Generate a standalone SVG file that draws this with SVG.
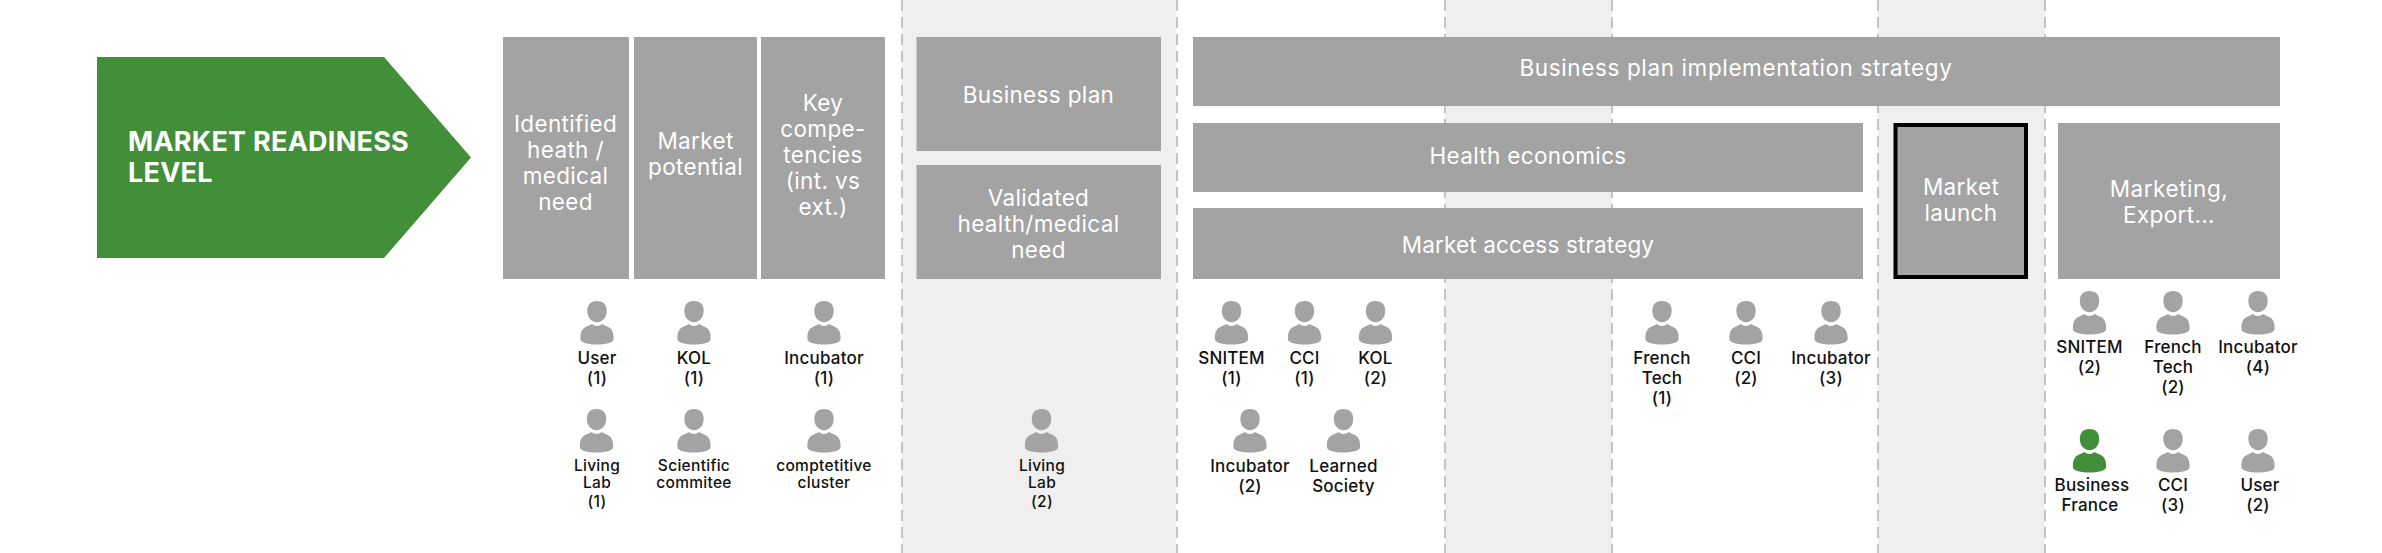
<svg xmlns="http://www.w3.org/2000/svg" width="2382" height="553" viewBox="0 0 2382 553">
<style>
.band{fill:#efefef}
.dash{stroke:#c4c4c4;stroke-width:2;stroke-dasharray:11 6;fill:none}
.box{fill:#a3a3a3}
text{font-family:"Inter","Liberation Sans",sans-serif}
.t{fill:#fff;font-size:22.5px;text-anchor:middle;letter-spacing:.35px}
.h{fill:#fff;font-size:27px;font-weight:700;letter-spacing:.25px}
.l{fill:#111;font-size:17px;font-weight:500;text-anchor:middle;letter-spacing:.2px}
.s{fill:#111;font-size:15.500px;font-weight:500;text-anchor:middle;letter-spacing:.3px}
.p{fill:#a3a3a3}
.g{fill:#438e38}
</style>
<defs>
<g id="person">
<path d="M0,0 C6.500,0 9.700,4 9.700,10 C9.700,16.500 5.500,21.200 0,21.200 C-5.500,21.200 -9.700,16.500 -9.700,10 C-9.700,4 -6.500,0 0,0 Z"/>
<path d="M-16.600,37 C-16.600,30 -14.500,27 -9,25 L-5,23 C-2.500,25.500 2.500,25.500 5,23 L9,25 C14.500,27 16.600,30 16.600,37 L16.600,38 C16.600,42 8,43.500 0,43.500 C-8,43.500 -16.600,42 -16.600,38 Z"/>
</g>
</defs>
<rect width="2382" height="553" fill="#fff"/>
<g id="bands">
<rect class="band" x="902" y="0" width="274" height="553"/>
<rect class="band" x="1445" y="0" width="167" height="553"/>
<rect class="band" x="1878" y="0" width="167" height="553"/>
<path class="dash" d="M902,0V553M1177,0V553M1445,0V553M1612,0V553M1878,0V553M2045,0V553"/>
</g>
<g id="connectors"></g>
<g id="market-readiness-level">
<polygon class="g" points="97,57 384,57 471,157.500 384,258 97,258"/>
<text class="h" x="128" y="151">MARKET READINESS</text>
<text class="h" x="128" y="182">LEVEL</text>
</g>
<g id="identified-need"><rect class="box" x="503" y="37" width="126" height="242"/>
<text class="t" x="565.500" y="132">Identified</text><text class="t" x="565.500" y="158">heath /</text><text class="t" x="565.500" y="183.500">medical</text><text class="t" x="565.500" y="209.500">need</text></g>
<g id="market-potential"><rect class="box" x="634" y="37" width="123" height="242"/>
<text class="t" x="695.500" y="149">Market</text><text class="t" x="695.500" y="175">potential</text></g>
<g id="key-competencies"><rect class="box" x="761" y="37" width="124" height="242"/>
<text class="t" x="823" y="111">Key</text><text class="t" x="823" y="137">compe-</text><text class="t" x="823" y="163">tencies</text><text class="t" x="823" y="189">(int. vs</text><text class="t" x="823" y="215">ext.)</text></g>
<g id="business-plan"><rect class="box" x="916.500" y="37" width="244.500" height="114"/>
<text class="t" x="1038.500" y="103">Business plan</text></g>
<g id="validated-need"><rect class="box" x="916.500" y="165" width="244.500" height="114"/>
<text class="t" x="1038.500" y="206">Validated</text><text class="t" x="1038.500" y="232">health/medical</text><text class="t" x="1038.500" y="258">need</text></g>
<g id="implementation-strategy"><rect class="box" x="1193" y="37" width="1087" height="69"/>
<text class="t" x="1736" y="76" style="letter-spacing:.62px">Business plan implementation strategy</text></g>
<g id="health-economics"><rect class="box" x="1193" y="123" width="670" height="69"/>
<text class="t" x="1528" y="164">Health economics</text></g>
<g id="market-access"><rect class="box" x="1193" y="208" width="670" height="71"/>
<text class="t" x="1528" y="253" style="letter-spacing:.15px">Market access strategy</text></g>
<g id="market-launch"><rect class="box" x="1895.500" y="125" width="130.500" height="152" stroke="#000" stroke-width="4"/>
<text class="t" x="1961" y="195">Market</text><text class="t" x="1961" y="221">launch</text></g>
<g id="marketing-export"><rect class="box" x="2058" y="123" width="222" height="156"/>
<text class="t" x="2169" y="197" style="letter-spacing:.55px">Marketing,</text><text class="t" x="2169" y="223">Export...</text></g>
<g id="actor-user-1"><use href="#person" class="p" x="597" y="301"/><text class="l" x="597" y="364">User</text><text class="l" x="597" y="384">(1)</text></g>
<g id="actor-kol-1"><use href="#person" class="p" x="694" y="301"/><text class="l" x="694" y="364">KOL</text><text class="l" x="694" y="384">(1)</text></g>
<g id="actor-incubator-1"><use href="#person" class="p" x="824" y="301"/><text class="l" x="824" y="364">Incubator</text><text class="l" x="824" y="384">(1)</text></g>
<g id="actor-living-lab-1"><use href="#person" class="p" x="596.500" y="409"/><text class="s" x="597" y="471">Living</text><text class="s" x="597" y="488">Lab</text><text class="s" x="597" y="507">(1)</text></g>
<g id="actor-scientific-commitee"><use href="#person" class="p" x="694" y="409"/><text class="s" x="694" y="471">Scientific</text><text class="s" x="694" y="488">commitee</text></g>
<g id="actor-competitive-cluster"><use href="#person" class="p" x="824" y="409"/><text class="s" x="824" y="471">comptetitive</text><text class="s" x="824" y="488">cluster</text></g>
<g id="actor-living-lab-2"><use href="#person" class="p" x="1041.500" y="409"/><text class="s" x="1042" y="471">Living</text><text class="s" x="1042" y="488">Lab</text><text class="s" x="1042" y="507">(2)</text></g>
<g id="actor-snitem-1"><use href="#person" class="p" x="1231.500" y="301"/><text class="l" x="1231.500" y="364">SNITEM</text><text class="l" x="1231.500" y="384">(1)</text></g>
<g id="actor-cci-1"><use href="#person" class="p" x="1304.500" y="301"/><text class="l" x="1304.500" y="364">CCI</text><text class="l" x="1304.500" y="384">(1)</text></g>
<g id="actor-kol-2"><use href="#person" class="p" x="1375.500" y="301"/><text class="l" x="1375.500" y="364">KOL</text><text class="l" x="1375.500" y="384">(2)</text></g>
<g id="actor-incubator-2"><use href="#person" class="p" x="1250" y="409"/><text class="l" x="1250" y="472">Incubator</text><text class="l" x="1250" y="492">(2)</text></g>
<g id="actor-learned-society"><use href="#person" class="p" x="1343.500" y="409"/><text class="l" x="1343.500" y="472">Learned</text><text class="l" x="1343.500" y="492">Society</text></g>
<g id="actor-french-tech-1"><use href="#person" class="p" x="1662" y="301"/><text class="l" x="1662" y="364">French</text><text class="l" x="1662" y="384">Tech</text><text class="l" x="1662" y="404">(1)</text></g>
<g id="actor-cci-2"><use href="#person" class="p" x="1746" y="301"/><text class="l" x="1746" y="364">CCI</text><text class="l" x="1746" y="384">(2)</text></g>
<g id="actor-incubator-3"><use href="#person" class="p" x="1831" y="301"/><text class="l" x="1831" y="364">Incubator</text><text class="l" x="1831" y="384">(3)</text></g>
<g id="actor-snitem-2"><use href="#person" class="p" x="2089.500" y="291"/><text class="l" x="2089.500" y="353">SNITEM</text><text class="l" x="2089.500" y="373">(2)</text></g>
<g id="actor-french-tech-2"><use href="#person" class="p" x="2173" y="291"/><text class="l" x="2173" y="353">French</text><text class="l" x="2173" y="373">Tech</text><text class="l" x="2173" y="393">(2)</text></g>
<g id="actor-incubator-4"><use href="#person" class="p" x="2258" y="291"/><text class="l" x="2258" y="353">Incubator</text><text class="l" x="2258" y="373">(4)</text></g>
<g id="actor-business-france"><use href="#person" class="g" x="2089.500" y="429"/><text class="l" x="2092" y="491">Business</text><text class="l" x="2090" y="511">France</text></g>
<g id="actor-cci-3"><use href="#person" class="p" x="2173" y="429"/><text class="l" x="2173" y="491">CCI</text><text class="l" x="2173" y="511">(3)</text></g>
<g id="actor-user-2"><use href="#person" class="p" x="2258" y="429"/><text class="l" x="2260" y="491">User</text><text class="l" x="2258" y="511">(2)</text></g>
</svg>
